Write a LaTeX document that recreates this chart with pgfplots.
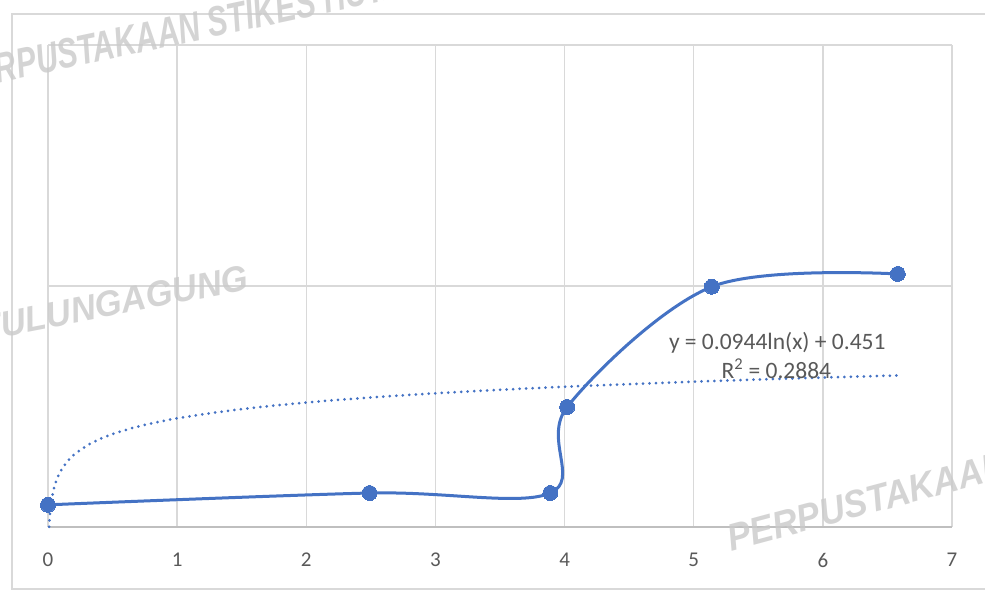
\documentclass[border=0pt]{standalone}
\usepackage{fontspec}
\setmainfont{Carlito}
\newfontfamily\wmfont{Liberation Sans}
\usepackage{pgfplots}
\pgfplotsset{compat=1.18}
\definecolor{series}{HTML}{4472C4}
\definecolor{gridc}{HTML}{D9D9D9}
\definecolor{axisc}{HTML}{BFBFBF}
\definecolor{txt}{HTML}{595959}
\definecolor{wm}{HTML}{CACACA}
\begin{document}
\begin{tikzpicture}[x=1pt,y=1pt]
\useasboundingbox (0,0) rectangle (985,597);
\begin{scope}
\clip (0,0) rectangle (985,597);
\fill[white] (0,0) rectangle (985,597);
\draw[gridc, line width=1.5pt] (1000,583) -- (12,583) -- (12,8) -- (1000,8);
\end{scope}
\begin{axis}[at={(48pt,70pt)}, anchor=south west, scale only axis,
  width=904pt, height=482pt,
  xmin=0, xmax=7, ymin=0, ymax=2,
  xtick={0,1,2,3,4,5,6,7}, ytick={0,1,2}, yticklabels={,,},
  grid=major, major grid style={gridc, line width=1.3pt},
  axis line style={draw=none}, tick style={draw=none},
  xticklabel style={font=\fontsize{21}{25}\selectfont, text=txt, anchor=center, yshift=-33pt},
  /pgf/number format/assume math mode=true,
  clip=false]
\draw[axisc, line width=1.5pt] (axis cs:0,0) -- (axis cs:7,0);
\addplot[series, line width=3pt, line cap=round, dash pattern=on 0pt off 6.5pt, smooth, mark=none] coordinates {
(0.0085,0.0009) (0.01,0.0163) (0.015,0.0545) (0.02,0.0817) (0.03,0.1200) (0.05,0.1682)
(0.075,0.2065) (0.1,0.2336) (0.15,0.2719) (0.2,0.2991) (0.3,0.3373) (0.4,0.3645)
(0.5,0.3856) (0.7,0.4173) (1,0.4510) (1.5,0.4893) (2,0.5164) (2.5,0.5375) (3,0.5547)
(3.5,0.5693) (4,0.5819) (4.5,0.5930) (5,0.6029) (5.5,0.6119) (6,0.6201) (6.58,0.6288)};
\addplot[series, line width=3pt, smooth, tension=0.55, mark=*, mark size=7.5pt,
  mark options={fill=series, draw=series, line width=0pt}] coordinates {
(0,0.092) (2.49,0.141) (3.89,0.141) (4.02,0.498) (5.14,0.997) (6.58,1.050)};
\node[text=txt, font=\fontsize{23.5}{27}\selectfont] at (axis cs:5.647,0.763) {y = 0.0944ln(x) + 0.451};
\node[text=txt, font=\fontsize{23.5}{27}\selectfont] at (axis cs:5.64,0.656) {R\textsuperscript{2} = 0.2884};
\end{axis}
\begin{scope}
\clip (0,0) rectangle (985,597);
\node[text=wm, opacity=0.8, font=\wmfont\bfseries\itshape\fontsize{42}{44}\selectfont, anchor=base west, rotate=12, xscale=0.72] at (-44,505) {PERPUSTAKAAN STIKES HUTAMA};
\node[text=wm, opacity=0.8, font=\wmfont\bfseries\itshape\fontsize{36}{40}\selectfont, rotate=11, xscale=0.96] at (114,294) {TULUNGAGUNG};
\node[text=wm, opacity=0.8, font=\wmfont\bfseries\itshape\fontsize{38}{40}\selectfont, anchor=base west, rotate=15, xscale=0.92] at (728,45) {PERPUSTAKAAN};
\end{scope}
\end{tikzpicture}
\end{document}
